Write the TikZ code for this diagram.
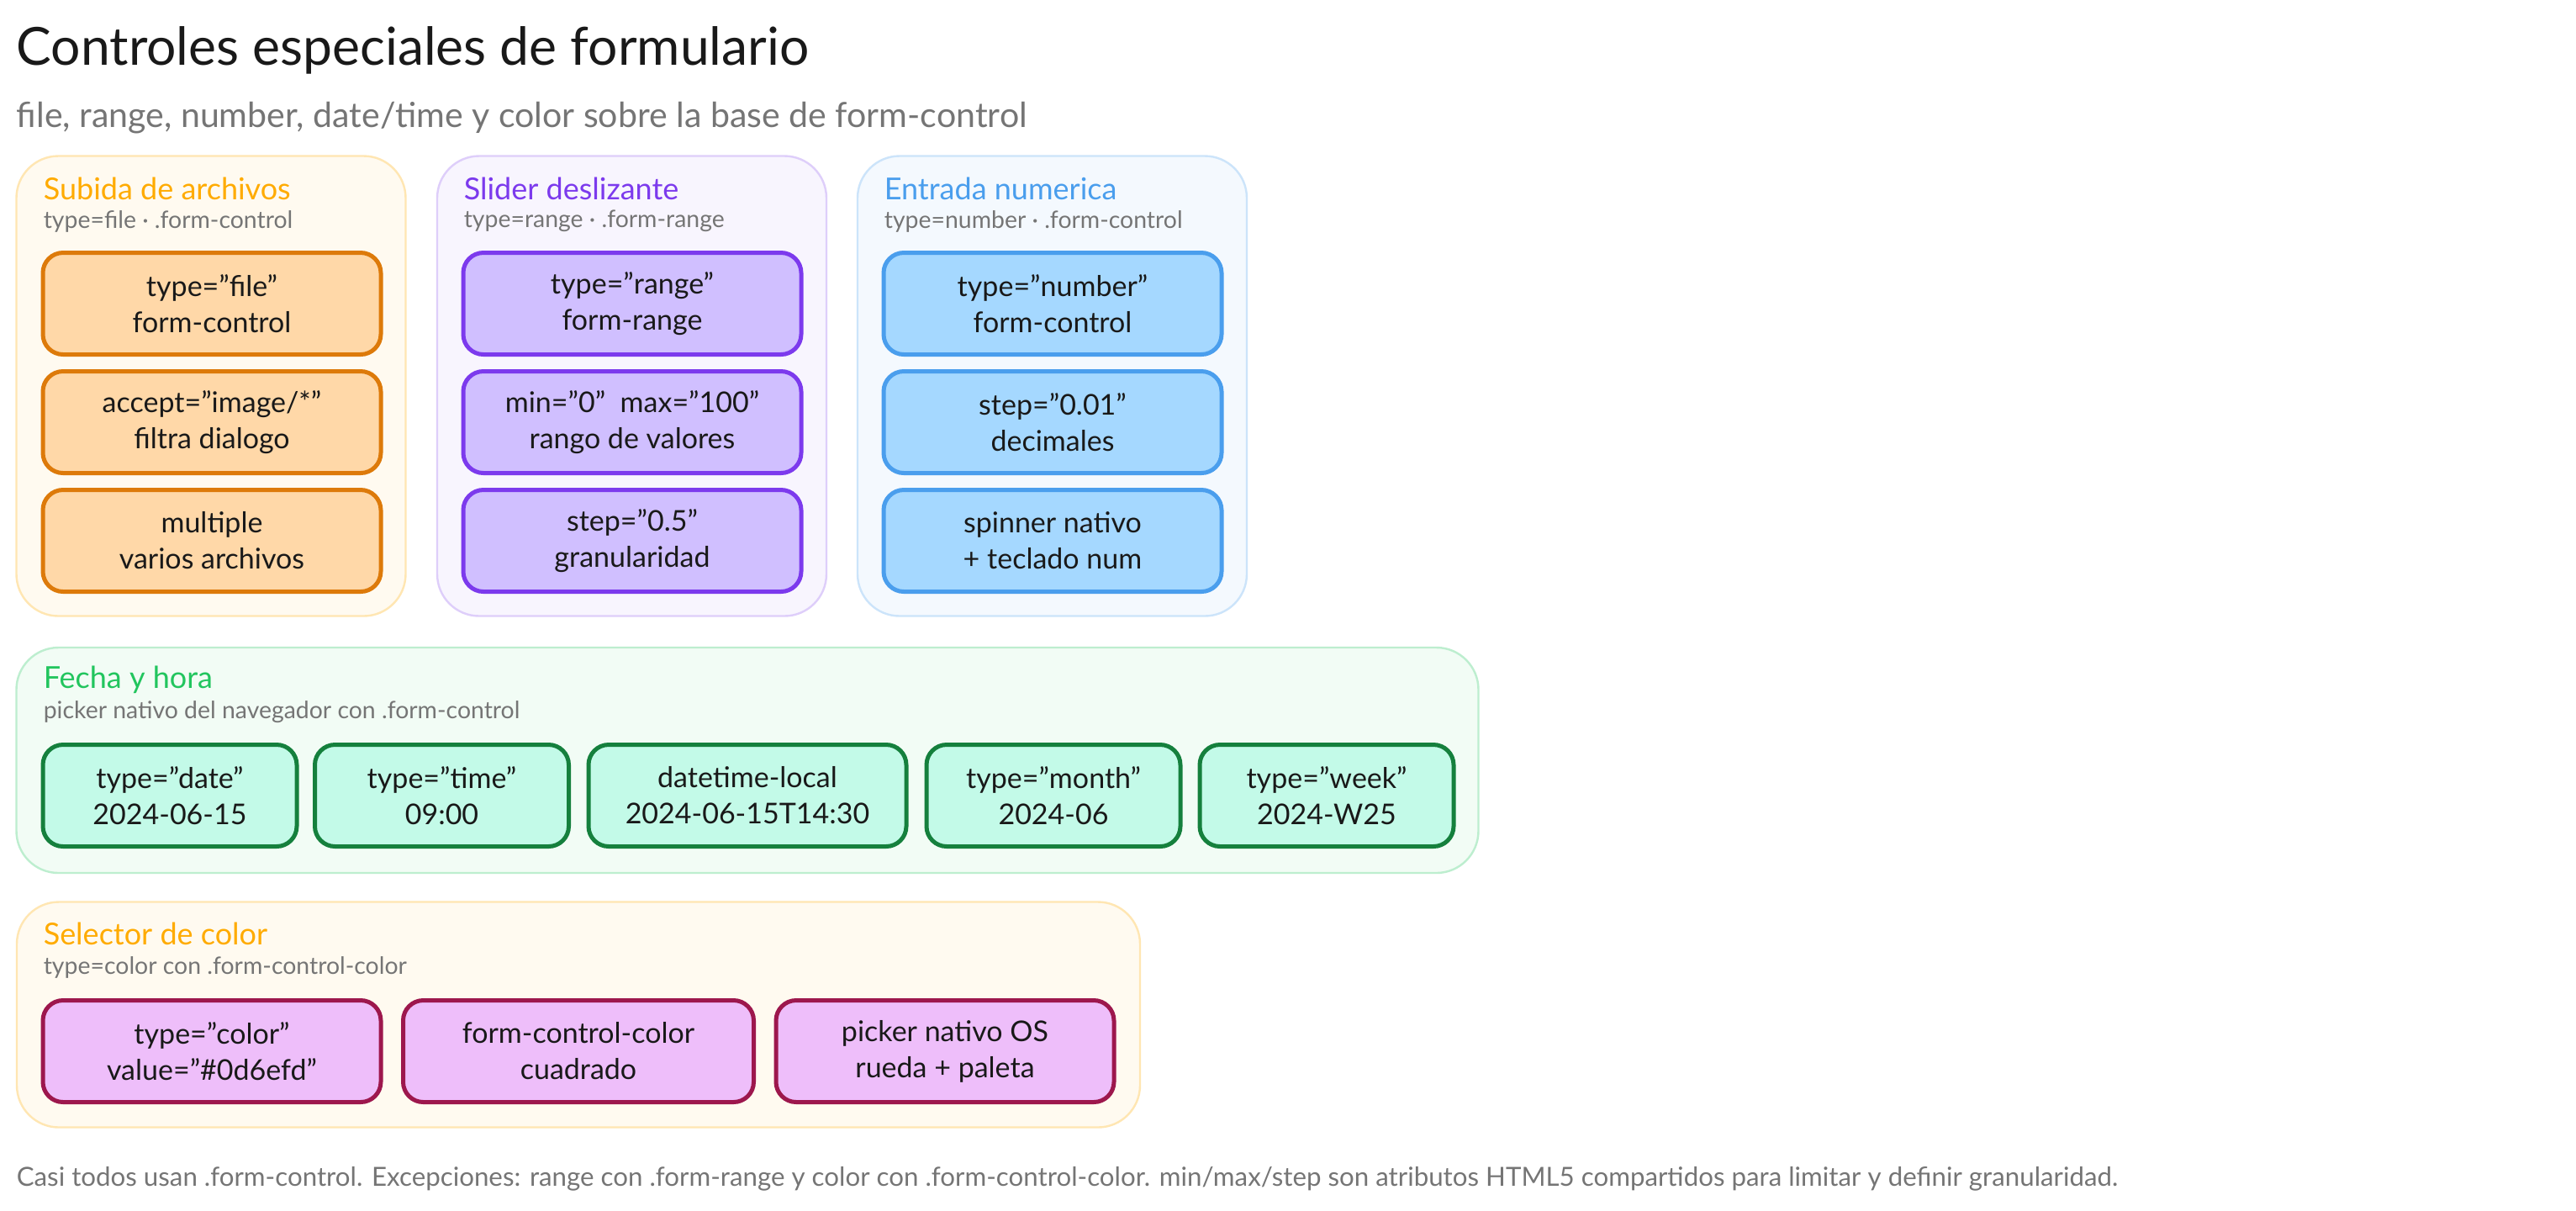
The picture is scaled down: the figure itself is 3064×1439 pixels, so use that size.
\documentclass[tikz,border=0pt]{standalone}
\usepackage{xcolor}
\usepackage{fontspec}
\setmainfont{Lato}

\definecolor{filedark}{HTML}{DD7A0A}
\definecolor{filefill}{HTML}{FFD8A8}
\definecolor{rangedark}{HTML}{7C3AED}
\definecolor{rangefill}{HTML}{D0BFFF}
\definecolor{numdark}{HTML}{4A9EED}
\definecolor{numfill}{HTML}{A5D8FF}
\definecolor{datedark}{HTML}{15803D}
\definecolor{datefill}{HTML}{C3FAE8}
\definecolor{colordark}{HTML}{9D174D}
\definecolor{colorfill}{HTML}{EEBEFA}
\definecolor{amber}{HTML}{FFAB00}
\definecolor{dategreen}{HTML}{22C55E}
\definecolor{greytext}{HTML}{757575}

\begin{document}
\begin{tikzpicture}[x=0.25pt, y=-0.25pt,
        panel/.style={rounded corners=12.5pt,line width=0.6pt,minimum width=115.75pt,minimum height=136.75pt},
        amberpanel/.style={panel,draw=amber!30,fill=amber!6},
        rangepanel/.style={panel,draw=rangedark!25,fill=rangedark!5},
        numpanel/.style={panel,draw=numdark!28,fill=numdark!6},
        datepanel/.style={panel,draw=dategreen!30,fill=dategreen!6},
        box/.style={rounded corners=6pt,line width=1.25pt,minimum width=100.5pt,minimum height=30.25pt,
      inner sep=0pt,align=center,text=black!90,font=\fontsize{8.5}{10.75}\selectfont},
        filebox/.style={box,draw=filedark,fill=filefill},
        rangebox/.style={box,draw=rangedark,fill=rangefill},
        numbox/.style={box,draw=numdark,fill=numfill},
        datebox/.style={box,draw=datedark,fill=datefill,minimum width=75.5pt},
        colorbox/.style={box,draw=colordark,fill=colorfill},
        heading/.style={anchor=west,inner sep=0pt,font=\fontsize{9}{10}\selectfont},
        note/.style={anchor=west,inner sep=0pt,text=greytext,font=\fontsize{7.1}{8}\selectfont}]

        \useasboundingbox [fill=white] (0,0) rectangle (3064,1439);

        \node [anchor=west,inner sep=0pt,text=black!90,font=\fontsize{15.6}{18}\selectfont] (title) at (19,60) {Controles especiales de formulario};
        \node [anchor=west,inner sep=0pt,text=greytext,font=\fontsize{10.27}{12}\selectfont] (subtitle) at (19,140) {file, range, number, date/time y color sobre la base de form-control};

        \node [amberpanel] (pfile) at (251,459) {};
        \node [rangepanel] (prange) at (751.5,459) {};
        \node [numpanel] (pnum) at (1251.5,459) {};
        \node [datepanel,minimum width=434.75pt,minimum height=67pt] (pdate) at (889,904) {};
        \node [amberpanel,minimum width=334pt,minimum height=67pt] (pcolor) at (688,1206.5) {};

        \node [heading,text=amber] (tfile) at (51,224) {Subida de archivos};
        \node [note] (nfile) at (51,263) {type=file · .form-control};
        \node [heading,text=rangedark] (trange) at (551,224) {Slider deslizante};
        \node [note] (nrange) at (551,263) {type=range · .form-range};
        \node [heading,text=numdark] (tnum) at (1051,224) {Entrada numerica};
        \node [note] (nnum) at (1051,263) {type=number · .form-control};
        \node [heading,text=dategreen] (tdate) at (51,808) {Fecha y hora};
        \node [note] (ndate) at (51,847) {picker nativo del navegador con .form-control};
        \node [heading,text=amber] (tcolor) at (51,1110) {Selector de color};
        \node [note] (ncolor) at (51,1150) {type=color con .form-control-color};

        \node [filebox] (f1) at (252,361) {type="file"\\form-control};
        \node [filebox] (f2) at (252,502) {accept="image/*"\\filtra dialogo};
        \node [filebox] (f3) at (252,643) {multiple\\varios archivos};

        \node [rangebox] (r1) at (752,361) {type="range"\\form-range};
        \node [rangebox] (r2) at (752,502) {min="0"\ \ max="100"\\rango de valores};
        \node [rangebox] (r3) at (752,643) {step="0.5"\\granularidad};

        \node [numbox] (n1) at (1252,361) {type="number"\\form-control};
        \node [numbox] (n2) at (1252,502) {step="0.01"\\decimales};
        \node [numbox] (n3) at (1252,643) {spinner nativo\\+ teclado num};

        \node [datebox] (d1) at (202,946) {type="date"\\2024-06-15};
        \node [datebox] (d2) at (525.5,946) {type="time"\\09:00};
        \node [datebox,minimum width=94.5pt] (d3) at (889,946) {datetime-local\\2024-06-15T14:30};
        \node [datebox] (d4) at (1253,946) {type="month"\\2024-06};
        \node [datebox] (d5) at (1578,946) {type="week"\\2024-W25};

        \node [colorbox] (c1) at (252,1250) {type="color"\\value="\#0d6efd"};
        \node [colorbox,minimum width=104.25pt] (c2) at (688,1250) {form-control-color\\cuadrado};
        \node [colorbox] (c3) at (1124,1250) {picker nativo OS\\rueda + paleta};

        \node [note,font=\fontsize{7.82}{10}\selectfont] (footer) at (19,1402) {Casi todos usan .form-control. Excepciones: range con .form-range y color con .form-control-color. min/max/step son atributos HTML5 compartidos para limitar y definir granularidad.};
\end{tikzpicture}
\end{document}
